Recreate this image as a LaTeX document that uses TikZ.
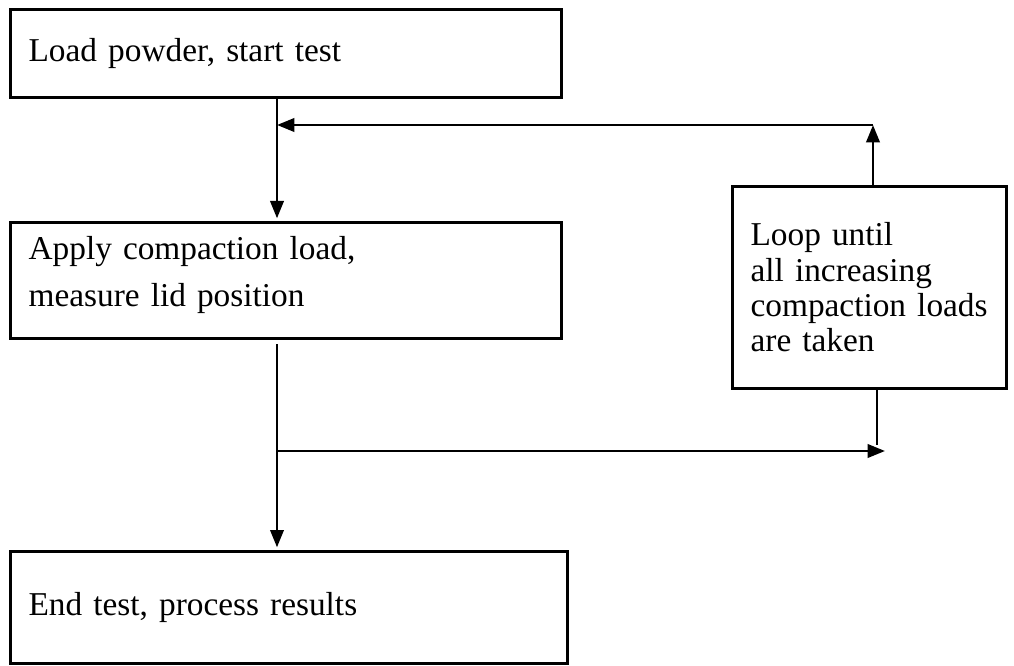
\documentclass[tikz,border=0pt]{standalone}
\usepackage{fontspec}
\setmainfont{Liberation Serif}
\usetikzlibrary{arrows.meta}

\tikzset{
  box/.style={draw, line width=2.4pt, anchor=north west, align=left, inner xsep=13.5pt, inner ysep=0pt,
    font=\fontsize{25}{26.5}\selectfont},
  flow/.style={line width=2pt, -{Triangle[length=13pt,width=10pt]}},
  plain/.style={line width=2pt}
}

\begin{document}
\begin{tikzpicture}[x=0.75pt,y=-0.75pt]
  \useasboundingbox (0,0) rectangle (1014,666);
  % boxes
  \node[box, minimum width=413.25pt, minimum height=66pt, text width=386.25pt] (load) at (9,8) {Load powder, start test};
  \node[box, minimum width=413.25pt, minimum height=87pt, text width=386.25pt, text depth=49pt] (apply) at (9,221) {Apply compaction load,\\[9pt]measure lid position};
  \node[box, minimum width=205.5pt, minimum height=151.5pt, text width=178.5pt] (loop) at (731,185) {Loop until\\all increasing\\compaction loads\\are taken};
  \node[box, minimum width=417.75pt, minimum height=84pt, text width=390.75pt] (end) at (9,550) {End test, process results};
  % helper points
  \coordinate (mainx) at (277,0);
  \coordinate (upx) at (873,0);
  \coordinate (downx) at (877,0);
  \coordinate (back) at (277,125);
  \coordinate (split) at (277,451);
  \coordinate (loopin) at (885,451);
  \coordinate (loopout) at (877,445);
  % connectors
  \draw[flow] (load.south -| mainx) -- ([yshift=2pt]apply.north -| mainx);
  \draw[flow] (loop.north -| upx) -- (upx |- back);
  \draw[flow] (upx |- back) -- (back);
  \draw[flow] ([yshift=-3pt]apply.south -| mainx) -- ([yshift=2pt]end.north -| mainx);
  \draw[flow] (split) -- (loopin);
  \draw[plain] (loop.south -| downx) -- (loopout);
\end{tikzpicture}
\end{document}
